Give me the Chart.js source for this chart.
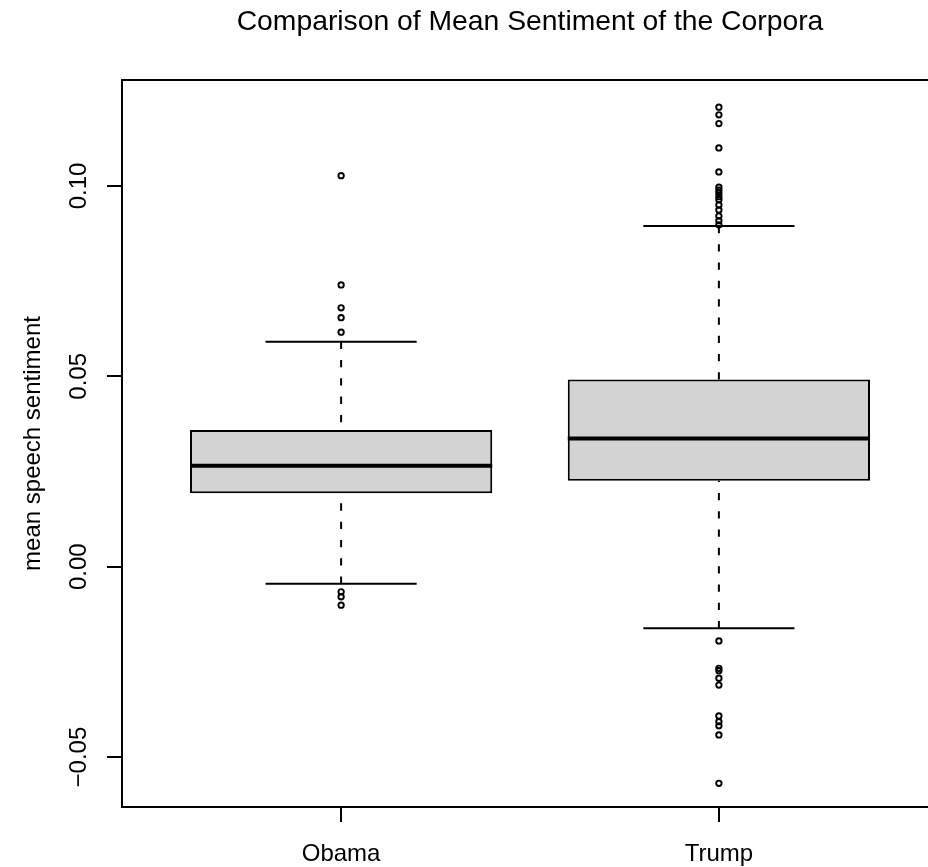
<!DOCTYPE html>
<html>
<head>
<meta charset="utf-8">
<script src="https://cdn.jsdelivr.net/npm/chart.js@4.4.0/dist/chart.umd.min.js"></script>
<style>
  html, body { margin: 0; padding: 0; background: #ffffff; overflow: hidden; }
  #wrap { position: absolute; left: 0; top: 0; width: 960px; height: 900px; }
  canvas { display: block; }
</style>
</head>
<body>
<div id="wrap"><canvas id="c" width="960" height="900"></canvas></div>
<script>
// ---- data ----
const categories = ['Obama', 'Trump'];
const categoryPositions = [1, 2];
const q1 = [0.0193, 0.0226];
const median = [0.0265, 0.0337];
const q3 = [0.0359, 0.0492];
const whiskerLow = [-0.0045, -0.0162];
const whiskerHigh = [0.0591, 0.0895];
const obamaOutliers = [0.1027, 0.0740, 0.0680, 0.0654, 0.0616, -0.0066, -0.0079, -0.0101];
const trumpOutliers = [0.1207, 0.1187, 0.1164, 0.1100, 0.1037, 0.0997, 0.0989, 0.0981, 0.0972,
  0.0964, 0.0950, 0.0937, 0.0921, 0.0909, 0.0898,
  -0.0195, -0.0267, -0.0273, -0.0293, -0.0311, -0.0392, -0.0407, -0.0418, -0.0442, -0.0569];
const yTickValues = [-0.05, 0, 0.05, 0.10];
const yTickLabels = ['\u22120.05', '0.00', '0.05', '0.10'];
const titleText = 'Comparison of Mean Sentiment of the Corpora';
const yTitleText = 'mean speech sentiment';

// ---- geometry constants (not data) ----
const X_MIN = 0.42, X_MAX = 2.58;
const Y_MIN = -0.06312, Y_MAX = 0.12784;
const BOX_HALF = 0.4, CAP_HALF = 0.2;
const FONT = '"Liberation Sans", Arial, sans-serif';

const boxData = categories.map((c, i) => ({ x: categoryPositions[i], y: [q1[i], q3[i]] }));
const whiskerData = [];
const capData = [];
const medianData = [];
categories.forEach((c, i) => {
  const p = categoryPositions[i];
  whiskerData.push({ x: p, y: whiskerHigh[i] }, { x: p, y: q3[i] }, { x: p, y: null },
                   { x: p, y: whiskerLow[i] }, { x: p, y: q1[i] }, { x: p, y: null });
  capData.push({ x: p - CAP_HALF, y: whiskerHigh[i] }, { x: p + CAP_HALF, y: whiskerHigh[i] }, { x: p, y: null },
               { x: p - CAP_HALF, y: whiskerLow[i] }, { x: p + CAP_HALF, y: whiskerLow[i] }, { x: p, y: null });
  medianData.push({ x: p - BOX_HALF, y: median[i] }, { x: p + BOX_HALF, y: median[i] }, { x: p, y: null });
});
const outlierData = [
  ...obamaOutliers.map(v => ({ x: categoryPositions[0], y: v })),
  ...trumpOutliers.map(v => ({ x: categoryPositions[1], y: v }))
];

const lineBase = { type: 'line', pointRadius: 0, borderColor: '#000', fill: false, spanGaps: false, tension: 0 };

new Chart(document.getElementById('c'), {
  type: 'bar',
  data: {
    datasets: [
      { ...lineBase, data: whiskerData, borderWidth: 2, borderDash: [7.3, 11], order: 4 },
      { type: 'bar', data: boxData, backgroundColor: '#d3d3d3', borderColor: '#000', borderWidth: 2,
        borderSkipped: false, barPercentage: 0.8, categoryPercentage: 1.0, order: 3 },
      { ...lineBase, data: capData, borderWidth: 2, order: 2 },
      { ...lineBase, data: medianData, borderWidth: 4, order: 1 },
      { type: 'scatter', data: outlierData, pointStyle: 'circle', pointRadius: 2.7, borderWidth: 1.9,
        borderColor: '#000', backgroundColor: 'rgba(0,0,0,0)', order: 0 }
    ]
  },
  options: {
    responsive: false,
    animation: false,
    events: [],
    layout: { padding: { left: 0, right: 22, top: 0, bottom: 0 } },
    plugins: { legend: { display: false }, tooltip: { enabled: false }, title: { display: false } },
    scales: {
      x: {
        type: 'linear', position: 'bottom', min: X_MIN, max: X_MAX, offset: false,
        afterBuildTicks: s => { s.ticks = categoryPositions.map(v => ({ value: v })); },
        afterFit: s => { s.height = 93; },
        grid: { display: true, offset: false, drawOnChartArea: false, drawTicks: true, tickLength: 15,
                color: '#000', tickColor: '#000', lineWidth: 2 },
        border: { display: true, color: '#000', width: 2 },
        ticks: { color: '#000', font: { family: FONT, size: 24 }, padding: 17.6, maxRotation: 0, minRotation: 0,
                 autoSkip: false,
                 callback: v => { const i = categoryPositions.indexOf(v); return i >= 0 ? categories[i] : ''; } }
      },
      x2: {
        type: 'linear', position: 'top', min: X_MIN, max: X_MAX, display: true, offset: false,
        afterBuildTicks: s => { s.ticks = categoryPositions.map(v => ({ value: v })); },
        afterFit: s => { s.height = 80; },
        grid: { display: true, drawOnChartArea: false, drawTicks: false, color: '#000', lineWidth: 2 },
        border: { display: true, color: '#000', width: 2 },
        ticks: { display: false },
        title: { display: true, text: titleText, color: '#000', font: { family: FONT, size: 28.3 },
                 padding: { top: 5, bottom: 0 } }
      },
      y: {
        type: 'linear', position: 'left', min: Y_MIN, max: Y_MAX, beginAtZero: false,
        afterBuildTicks: s => { s.ticks = yTickValues.map(v => ({ value: v })); },
        afterFit: s => { s.width = 122; },
        grid: { display: true, drawOnChartArea: false, drawTicks: true, tickLength: 15,
                color: '#000', tickColor: '#000', lineWidth: 2 },
        border: { display: true, color: '#000', width: 2 },
        ticks: { color: '#000', font: { family: FONT, size: 24 }, padding: -3, minRotation: 90, maxRotation: 90,
                 crossAlign: 'center', autoSkip: false,
                 callback: v => { const i = yTickValues.findIndex(t => Math.abs(t - v) < 1e-9); return i >= 0 ? yTickLabels[i] : ''; } },
        title: { display: true, text: yTitleText, color: '#000', font: { family: FONT, size: 24 },
                 padding: { top: 18.6, bottom: 0 } }
      }
    }
  }
});
</script>
</body>
</html>
